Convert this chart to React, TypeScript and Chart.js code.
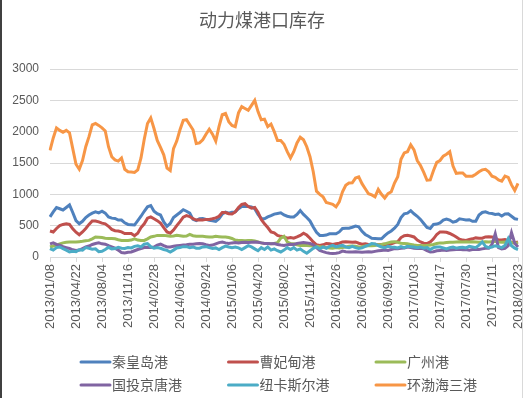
import { useEffect, useRef } from 'react';
import { Chart, registerables } from 'chart.js';

Chart.register(...registerables);

const chartTitle = '动力煤港口库存';
const startDate = '2013/01/08';
const stepDays = 13;
const tickEvery = 8;
const yTicks = { min: 0, max: 3000, step: 500 };

const seriesNames = ['秦皇岛港', '曹妃甸港', '广州港', '国投京唐港', '纽卡斯尔港', '环渤海三港'];
const seriesColors = ['#4F81BD', '#C0504D', '#9BBB59', '#8064A2', '#4BACC6', '#F79646'];

const qinhuangdao = [
  640, 720, 790, 770, 750, 790, 830, 710, 580, 530,
  570, 630, 670, 700, 720, 705, 730, 700, 640, 620,
  615, 590, 590, 545, 520, 515, 510, 580, 650, 730,
  800, 820, 730, 690, 670, 560, 490, 535, 630, 670,
  710, 755, 730, 700, 600, 580, 610, 615, 600, 585,
  580, 570, 610, 685, 715, 700, 715, 720, 770, 805,
  805, 805, 800, 770, 680, 615, 610, 640, 660, 685,
  695, 705, 670, 650, 640, 640, 680, 740, 680, 630,
  575, 480, 395, 345, 345, 350, 370, 370, 370, 400,
  455, 460, 460, 475, 495, 480, 410, 360, 330, 300,
  295, 290, 290, 340, 385, 415, 460, 520, 630, 690,
  700, 740, 690, 650, 600, 535, 470, 455, 520, 525,
  545, 590, 605, 590, 555, 570, 610, 600, 590, 595,
  570, 570, 670, 710, 720, 700, 695, 680, 685, 655,
  685, 690, 650, 610, 600,
];

const caofeidian = [
  415, 400, 455, 500, 520, 530, 520, 450, 395, 355,
  400, 455, 520, 575, 575, 560, 540, 530, 490, 440,
  420, 415, 400, 375, 375, 375, 340, 380, 470, 530,
  620, 640, 610, 580, 540, 470, 400, 380, 430, 500,
  565, 635, 660, 645, 610, 590, 595, 590, 600, 600,
  610, 625, 650, 710, 710, 690, 685, 720, 790, 840,
  850, 805, 780, 790, 715, 600, 530, 470, 400, 385,
  345, 330, 320, 300, 310, 300, 320, 345, 380, 350,
  300, 240, 195, 185, 195, 215, 210, 200, 210, 220,
  240, 245, 240, 235, 240, 220, 205, 210, 200, 200,
  205, 195, 200, 205, 200, 210, 230, 245, 310, 340,
  345, 335, 320, 270, 240, 220, 215, 240, 290, 360,
  400, 400, 395, 375, 350, 320, 285, 270, 265, 280,
  290, 305, 300, 300, 320, 325, 320, 300, 270, 270,
  280, 260, 235, 225, 240,
];

const guangzhou = [
  160, 175, 190, 210, 225, 235, 240, 240, 240, 245,
  250, 260, 265, 290, 320, 315, 310, 300, 295, 295,
  290, 275, 265, 265, 265, 270, 290, 270, 265, 265,
  290, 320, 330, 345, 345, 345, 340, 330, 335, 345,
  340, 330, 335, 360, 340, 330, 330, 330, 325, 320,
  320, 330, 325, 320, 320, 310, 295, 270, 265, 265,
  260, 265, 265, 255, 240, 225, 215, 215, 210, 215,
  230, 300, 330, 240, 215, 210, 195, 185, 185, 185,
  180, 175, 170, 165, 160, 150, 145, 140, 150, 145,
  150, 160, 170, 175, 170, 160, 165, 175, 180, 180,
  185, 195, 200, 210, 225, 240, 245, 235, 220, 215,
  210, 200, 190, 185, 185, 180, 185, 190, 200, 215,
  225, 225, 230, 235, 235, 240, 245, 240, 245, 240,
  245, 240, 235, 240, 245, 240, 245, 250, 240, 235,
  240, 235, 230, 225, 220,
];

const jingtang = [
  210, 225, 200, 190, 165, 150, 135, 115, 105, 110,
  135, 160, 175, 200, 215, 225, 210, 205, 180, 160,
  140, 110, 70, 65, 75, 80, 100, 120, 135, 150,
  155, 150, 160, 190, 205, 180, 160, 160, 170, 180,
  185, 190, 195, 205, 205, 210, 215, 210, 195, 185,
  190, 210, 230, 240, 225, 215, 225, 230, 225, 230,
  235, 230, 235, 240, 235, 225, 215, 215, 210, 215,
  200, 190, 185, 195, 205, 200, 215, 225, 230, 225,
  215, 195, 150, 105, 85, 70, 60, 55, 60, 70,
  95, 85, 80, 80, 85, 80, 75, 80, 85, 80,
  90, 100, 105, 110, 105, 120, 135, 130, 140, 145,
  160, 150, 140, 135, 140, 130, 100, 80, 85, 100,
  105, 110, 105, 110, 115, 120, 125, 115, 120, 110,
  120, 125, 120, 130, 140, 140, 200, 370, 150, 130,
  140, 180, 390, 220, 160,
];

const newcastle = [
  135, 110, 150, 160, 135, 110, 80, 90, 85, 115,
  110, 150, 140, 125, 130, 85, 90, 120, 155, 130,
  135, 155, 140, 135, 150, 145, 170, 180, 160, 205,
  215, 165, 140, 150, 140, 120, 105, 80, 110, 145,
  150, 165, 165, 150, 160, 140, 140, 160, 165, 150,
  135, 145, 120, 150, 175, 160, 150, 160, 145, 120,
  150, 180, 160, 130, 100, 150, 120, 160, 110, 130,
  100, 80, 110, 150, 120, 150, 110, 130, 90, 60,
  100, 140, 160, 130, 160, 140, 170, 185, 160, 175,
  185, 160, 150, 170, 150, 135, 145, 170, 190, 215,
  210, 180, 160, 150, 170, 160, 155, 145, 165, 150,
  170, 165, 160, 150, 160, 140, 150, 120, 150, 160,
  160, 145, 130, 150, 160, 140, 150, 155, 145, 170,
  160, 150, 190, 240, 170, 150, 160, 180, 165, 150,
  185, 295, 180, 140, 120,
];

const bohaiThree = [
  1700, 1900, 2060, 2020, 1990, 2020, 1980, 1730, 1480, 1400,
  1540, 1760, 1920, 2110, 2130, 2100, 2060, 2010, 1760, 1600,
  1550, 1530, 1580, 1400, 1360, 1355, 1350, 1390, 1580, 1880,
  2130, 2220, 2050, 1860, 1750, 1630, 1420, 1380, 1730, 1850,
  2030, 2180, 2190, 2110, 2030, 1810, 1820, 1870, 1960, 2040,
  1960, 1850, 2080, 2270, 2290, 2160, 2100, 2080, 2300, 2400,
  2370, 2340, 2420, 2500, 2320, 2190, 2200, 2080, 2120, 2000,
  1860, 1860, 1800, 1680, 1580, 1680, 1820, 1910, 1870, 1760,
  1600, 1360, 1050, 1000, 960, 870, 855, 840, 800, 880,
  1040, 1145, 1180, 1185, 1260, 1280, 1170, 1090, 1010, 990,
  960, 1080, 1000, 940, 1010, 1040, 1180, 1280, 1560, 1660,
  1680, 1790, 1710, 1540, 1460, 1350, 1225, 1230, 1380, 1510,
  1540, 1610, 1640, 1680, 1450, 1335, 1340, 1340, 1290, 1290,
  1290, 1320, 1360, 1390, 1400, 1360, 1290, 1270, 1230, 1210,
  1290, 1270, 1150, 1060, 1175,
];

const seriesValues = [qinhuangdao, caofeidian, guangzhou, jingtang, newcastle, bohaiThree];

function buildCategories(start: string, step: number, count: number): string[] {
  const [y, m, d] = start.split('/').map(Number);
  const base = Date.UTC(y, m - 1, d);
  const out: string[] = [];
  for (let i = 0; i < count; i++) {
    const dt = new Date(base + i * step * 86400000);
    const mm = String(dt.getUTCMonth() + 1).padStart(2, '0');
    const dd = String(dt.getUTCDate()).padStart(2, '0');
    out.push(`${dt.getUTCFullYear()}/${mm}/${dd}`);
  }
  return out;
}

const categories = buildCategories(startDate, stepDays, bohaiThree.length);

const TEXT = '#595959';
const GRID = '#D9D9D9';
const CJK = '"Noto Sans CJK SC", sans-serif';

const decorPlugin = {
  id: 'decor',
  afterDraw(chart: any) {
    const ctx = chart.ctx as CanvasRenderingContext2D;
    ctx.save();
    ctx.fillStyle = '#404040';
    ctx.fillRect(0, 0, 2, chart.height);
    ctx.fillStyle = GRID;
    ctx.fillRect(522, 0, 1, chart.height);
    ctx.fillStyle = TEXT;
    ctx.font = `18px ${CJK}`;
    ctx.textAlign = 'center';
    ctx.textBaseline = 'middle';
    ctx.fillText(chartTitle, 262, 20);
    ctx.font = `14px ${CJK}`;
    ctx.textAlign = 'left';
    chart.data.datasets.forEach((ds: any, i: number) => {
      const col = i % 3;
      const row = Math.floor(i / 3);
      const x = 81 + col * 147.5;
      const y = 362 + row * 23;
      ctx.strokeStyle = ds.borderColor;
      ctx.lineWidth = 3;
      ctx.lineCap = 'round';
      ctx.beginPath();
      ctx.moveTo(x, y);
      ctx.lineTo(x + 29, y);
      ctx.stroke();
      ctx.fillStyle = TEXT;
      ctx.fillText(ds.label, x + 31, y);
    });
    ctx.restore();
  },
};

export default function App() {
  const ref = useRef<HTMLCanvasElement | null>(null);
  useEffect(() => {
    if (!ref.current) return;
    const datasets = seriesNames.map((name, i) => ({
      label: name,
      data: seriesValues[i],
      borderColor: seriesColors[i],
      backgroundColor: seriesColors[i],
      borderWidth: 3,
      pointRadius: 0,
      tension: 0,
      fill: false,
      order: seriesNames.length - 1 - i,
    }));
    const chart = new Chart(ref.current, {
      type: 'line',
      data: { labels: categories, datasets },
      options: {
        animation: false,
        responsive: false,
        layout: { padding: { top: 69, right: 13, left: 0, bottom: 0 } },
        plugins: {
          legend: { display: false },
          title: { display: false },
          tooltip: { enabled: false },
        },
        scales: {
          x: {
            type: 'category',
            offset: false,
            grid: {
              drawOnChartArea: false,
              drawTicks: true,
              tickLength: 5,
              color: (c: any) => (c.index % tickEvery === 0 ? GRID : 'rgba(0,0,0,0)'),
            },
            border: { display: true, color: GRID },
            ticks: {
              autoSkip: false,
              maxRotation: 90,
              minRotation: 90,
              padding: 2,
              color: TEXT,
              font: { family: 'Liberation Sans', size: 13 },
              callback: (_v: any, i: number) => (i % tickEvery === 0 ? categories[i] : ''),
            },
            afterFit: (s: any) => {
              s.height = 141;
              s.paddingLeft = 0;
              s.paddingRight = 0;
            },
          },
          y: {
            min: yTicks.min,
            max: yTicks.max,
            grid: { color: GRID, drawTicks: false },
            border: { display: false },
            ticks: {
              stepSize: yTicks.step,
              padding: 11,
              color: TEXT,
              font: { family: 'Liberation Sans', size: 12 },
              callback: (v: any) => String(v),
            },
            afterFit: (s: any) => {
              s.width = 50;
              s.paddingTop = 0;
              s.paddingBottom = 0;
            },
          },
        },
      } as any,
      plugins: [decorPlugin],
    });
    return () => chart.destroy();
  }, []);
  return (
    <div style={{ position: 'absolute', left: 0, top: 0, width: 531, height: 398, background: '#fff' }}>
      <canvas ref={ref} width={531} height={398} style={{ display: 'block' }} />
    </div>
  );
}
